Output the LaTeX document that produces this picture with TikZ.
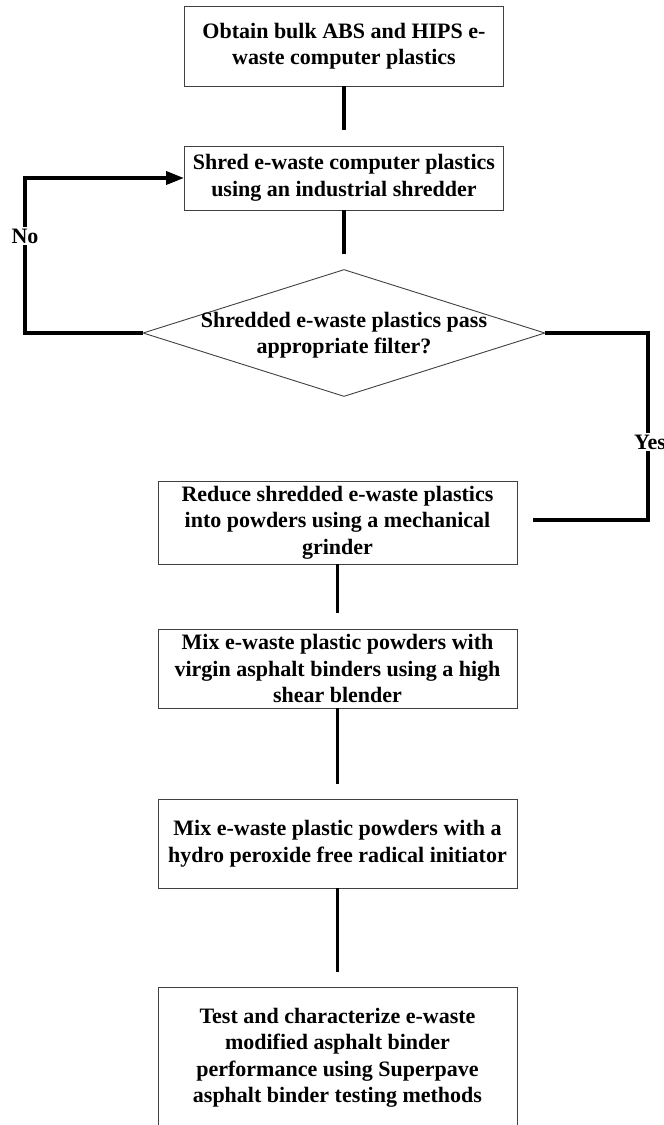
\documentclass[tikz,border=0pt]{standalone}
\usepackage{fontspec}
\setmainfont{Liberation Serif}
\usetikzlibrary{arrows.meta,shapes.geometric}
\begin{document}
\begin{tikzpicture}[x=1pt,y=-1pt,
  txt/.style={inner sep=0pt, align=center, font=\bfseries\fontsize{22}{26.5}\selectfont},
  box/.style={txt, draw=black!75, line width=0.9pt},
  conn/.style={line width=3.6pt, line join=miter},
  lbl/.style={fill=white, inner sep=2pt, font=\bfseries\fontsize{22}{26.5}\selectfont}
]
\useasboundingbox (0,0) rectangle (664,1125);

\node[box, minimum width=319pt, minimum height=80pt] (b1) at (344,46)
  {Obtain bulk ABS and HIPS e-\\waste computer plastics};
\node[box, minimum width=319pt, minimum height=64pt] (b2) at (344,178)
  {Shred e-waste computer plastics\\using an industrial shredder};
\node[diamond, draw=black!75, line width=0.9pt, minimum width=402pt, minimum height=127pt, inner sep=0pt] (d) at (344,333) {};
\node[txt] (dt) at (344,335) {Shredded e-waste plastics pass\\appropriate filter?};
\node[box, minimum width=359pt, minimum height=83pt] (b3) at (337.5,522.5)
  {Reduce shredded e-waste plastics\\into powders using a mechanical\\grinder};
\node[box, minimum width=359pt, minimum height=79pt] (b4) at (337.5,668.5)
  {Mix e-waste plastic powders with\\virgin asphalt binders using a high\\shear blender};
\node[box, minimum width=359pt, minimum height=89pt] (b5) at (337.5,843.5)
  {Mix e-waste plastic powders with a\\hydro peroxide free radical initiator};
\node[box, minimum width=359pt, minimum height=142pt] (b6) at (337.5,1058)
  {Test and characterize e-waste\\modified asphalt binder\\performance using Superpave\\asphalt binder testing methods};

\coordinate (nocorner) at (25,333);
\coordinate (notop) at (25,178);
\coordinate (ycorner) at (648,333);
\coordinate (ybot) at (648,520);

\draw[conn] (b1.south) -- ([yshift=16pt]b2.north);
\draw[conn] (b2.south) -- ([yshift=15pt]d.north);
\draw[conn, -{Triangle[length=18pt,width=13pt]}] (d.west) -- (nocorner) -- (notop) -- (b2.west);
\draw[conn] (d.east) -- (ycorner) -- (ybot) -- ([xshift=16pt]b3.east |- ybot);
\draw[conn] (b3.south) -- ([yshift=16pt]b4.north);
\draw[conn] (b4.south) -- ([yshift=15pt]b5.north);
\draw[conn] (b5.south) -- ([yshift=15pt]b6.north);

\node[lbl] (no) at (25,236) {No};
\node[lbl] (yes) at (650,442) {Yes};
\end{tikzpicture}
\end{document}
